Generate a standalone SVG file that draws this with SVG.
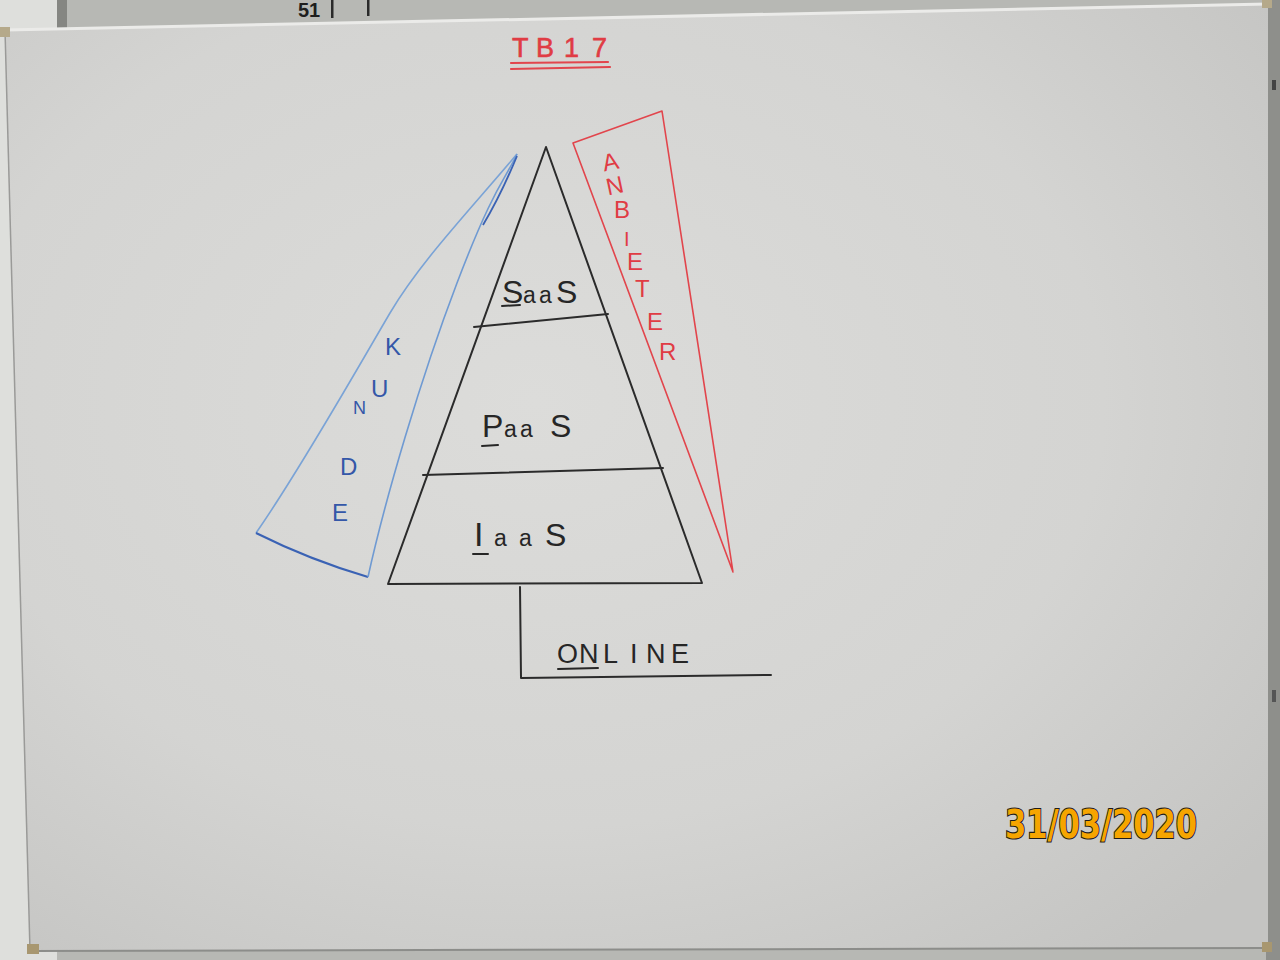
<svg xmlns="http://www.w3.org/2000/svg" width="1280" height="960" viewBox="0 0 1280 960">
  <defs>
    <radialGradient id="boardGrad" cx="0.42" cy="0.42" r="0.75">
      <stop offset="0" stop-color="#dcdcda"/>
      <stop offset="0.6" stop-color="#d4d4d2"/>
      <stop offset="1" stop-color="#c4c4c2"/>
    </radialGradient>
    <style>
      .blk { fill: none; stroke: #2b2b2b; stroke-width: 2; stroke-linecap: round; stroke-linejoin: round; }
      .blkText { fill: #262626; font-family: "Liberation Sans", "DejaVu Sans", sans-serif; }
      .red { fill: none; stroke: #e2454c; stroke-width: 1.6; stroke-linejoin: round; }
      .redText { fill: #e03c44; font-family: "Liberation Sans", "DejaVu Sans", sans-serif; font-size: 24px; }
      .blueText { fill: #3457a8; font-family: "Liberation Sans", "DejaVu Sans", sans-serif; font-size: 24px; }
      .ul { stroke: #262626; stroke-width: 2; stroke-linecap: round; }
      .dateText { font-family: "DejaVu Sans", "Liberation Sans", sans-serif; font-weight: bold; font-size: 39px; fill: #f6a500; stroke: #1c1c1c; stroke-width: 2.2; paint-order: stroke; }
    </style>
  </defs>

  <!-- background wall / surroundings -->
  <rect x="0" y="0" width="1280" height="960" fill="#b7b8b4"/>
  <rect x="0" y="0" width="57" height="960" fill="#dedfdc"/>
  <rect x="57" y="0" width="10" height="30" fill="#858682"/>
  <rect x="1266" y="0" width="14" height="960" fill="#8e8f8b"/>
  <rect x="1272" y="80" width="4" height="10" fill="#444"/>
  <rect x="1272" y="690" width="4" height="12" fill="#555"/>
  <text x="298" y="17" style="font-family:'Liberation Sans',sans-serif;font-size:20px;font-weight:bold;fill:#1e1e1e">51</text>
  <rect x="331" y="0" width="2.5" height="18" fill="#2a2a2a"/>
  <rect x="367" y="0" width="2.5" height="16" fill="#2a2a2a"/>

  <!-- whiteboard -->
  <g id="board">
    <polygon points="5,30 1268,4 1268,948 30,951" fill="url(#boardGrad)"/>
    <polyline points="5,30 1268,4" fill="none" stroke="#ebebe9" stroke-width="3"/>
    <polyline points="5,30 30,951" fill="none" stroke="#9a9a98" stroke-width="1.5"/>
    <polyline points="30,951 1268,948" fill="none" stroke="#8c8d8a" stroke-width="2"/>
    <rect x="0" y="27" width="10" height="10" fill="#b5a98a"/>
    <rect x="27" y="944" width="12" height="10" fill="#a89770"/>
    <rect x="1262" y="942" width="10" height="10" fill="#a89770"/>
    <rect x="1262" y="0" width="10" height="8" fill="#b5a98a"/>
  </g>

  <!-- title -->
  <g id="title">
    <text class="redText" x="512" y="57" style="font-size:27px;stroke:#e03c44;stroke-width:0.6"><tspan x="512">T</tspan><tspan x="536">B</tspan><tspan x="564">1</tspan><tspan x="592">7</tspan></text>
    <line x1="511" y1="63" x2="608" y2="62" stroke="#e2454c" stroke-width="2.2" stroke-linecap="round"/>
    <line x1="511" y1="69" x2="610" y2="67" stroke="#e2454c" stroke-width="2.2" stroke-linecap="round"/>
  </g>

  <!-- KUNDE (customer) sail -->
  <g id="kunde">
    <path d="M517,154 C470,210 420,262 390,313 S300,470 256,533" fill="none" stroke="#7aa3d6" stroke-width="1.6"/>
    <path d="M256,533 Q310,560 368,577" fill="none" stroke="#3a62b4" stroke-width="2"/>
    <path d="M368,577 C385,500 420,380 457,283 S505,180 517,154" fill="none" stroke="#6f9ad2" stroke-width="1.6"/>
    <path d="M517,156 C505,185 495,205 483,225" fill="none" stroke="#3a62b4" stroke-width="1.8"/>
    <text class="blueText" x="385" y="355">K</text>
    <text class="blueText" x="371" y="397">U</text>
    <text class="blueText" x="353" y="414" style="font-size:18px">N</text>
    <text class="blueText" x="340" y="475">D</text>
    <text class="blueText" x="332" y="521">E</text>
  </g>

  <!-- ANBIETER (provider) pennant -->
  <g id="anbieter">
    <polygon class="red" points="573,143 662,111 733,572"/>
    <g class="redText">
      <text x="602" y="170" transform="rotate(-12 610 160)">A</text>
      <text x="606" y="194" transform="rotate(-12 614 185)">N</text>
      <text x="614" y="218">B</text>
      <text x="624" y="246" style="font-size:20px">I</text>
      <text x="627" y="270">E</text>
      <text x="635" y="297">T</text>
      <text x="647" y="330">E</text>
      <text x="659" y="360">R</text>
    </g>
  </g>

  <!-- pyramid -->
  <g id="pyramid">
    <path class="blk" d="M388,584 L546,147 L702,583 Z"/>
  </g>
  <g id="saas">
    <path class="blk" d="M474,327 L608,314"/>
    <text class="blkText" y="303"><tspan x="502" style="font-size:32px">S</tspan><tspan x="523" style="font-size:23px">a</tspan><tspan x="539" style="font-size:23px">a</tspan><tspan x="556" style="font-size:32px">S</tspan></text>
    <line class="ul" x1="502" y1="306" x2="520" y2="305"/>
  </g>
  <g id="paas">
    <path class="blk" d="M423,475 L663,468"/>
    <text class="blkText" y="437"><tspan x="482" style="font-size:32px">P</tspan><tspan x="504" style="font-size:23px">a</tspan><tspan x="520" style="font-size:23px">a</tspan><tspan x="550" style="font-size:32px">S</tspan></text>
    <line class="ul" x1="482" y1="446" x2="498" y2="445"/>
  </g>
  <g id="iaas">
    <text class="blkText" y="546"><tspan x="474" style="font-size:34px">I</tspan><tspan x="494" style="font-size:23px">a</tspan><tspan x="519" style="font-size:23px">a</tspan><tspan x="545" style="font-size:32px">S</tspan></text>
    <line class="ul" x1="473" y1="554" x2="488" y2="554"/>
  </g>

  <!-- connector from pyramid base to ONLINE -->
  <g id="connectors">
    <path class="blk" d="M520,587 L521,678 L771,675" stroke-width="1.8"/>
  </g>

  <g id="online">
    <text class="blkText" y="663" style="font-size:27px"><tspan x="557">O</tspan><tspan x="579">N</tspan><tspan x="603">L</tspan><tspan x="630">I</tspan><tspan x="646">N</tspan><tspan x="671">E</tspan></text>
    <line class="ul" x1="558" y1="669" x2="598" y2="668"/>
  </g>

  <!-- camera date stamp -->
  <g id="date">
    <text class="dateText" x="1005" y="838" textLength="192" lengthAdjust="spacingAndGlyphs">31/03/2020</text>
  </g>
</svg>
